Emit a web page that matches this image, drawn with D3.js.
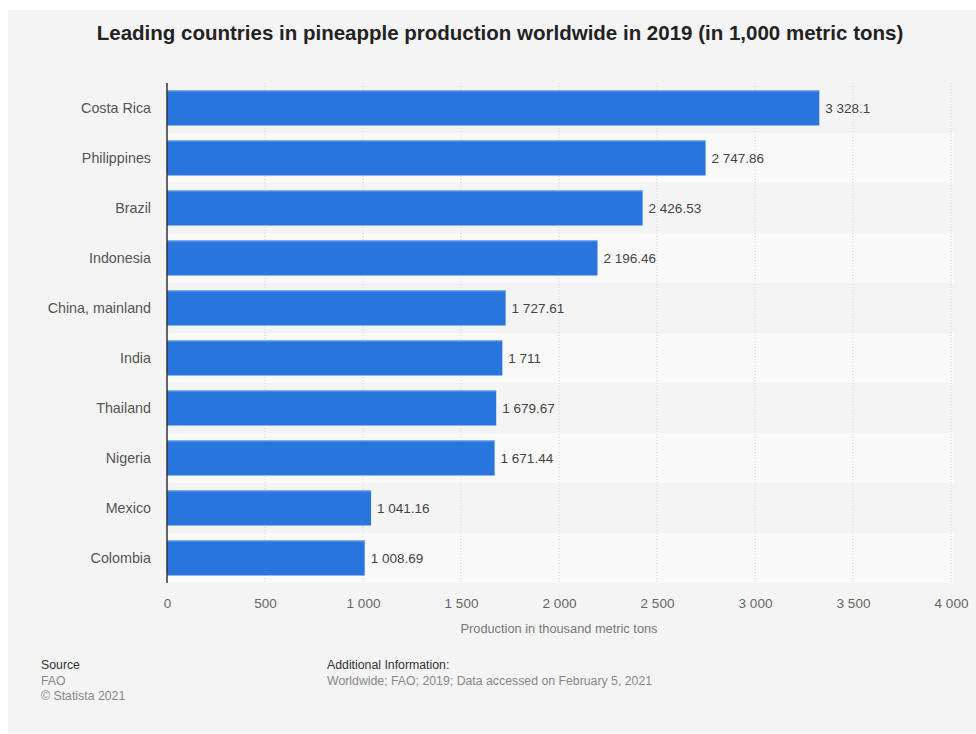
<!DOCTYPE html>
<html lang="en">
<head>
    <meta charset="UTF-8">
    <title>Pineapple production 2019</title>
    <script src="https://d3js.org/d3.v7.min.js"></script>
    <style>
        body { margin: 0; background: #fff; font-family: "Liberation Sans", Arial, sans-serif; }
        .bar { fill: #2876dd; }
        .cat-label { font-size: 14.3px; fill: #555; }
        .val-label { font-size: 13.5px; fill: #444; }
        .tick-label { font-size: 13.5px; fill: #666; }
    </style>
</head>
<body>
    <svg width="976" height="734"></svg>
    <script>
        const countries = ["Costa Rica", "Philippines", "Brazil", "Indonesia", "China, mainland",
            "India", "Thailand", "Nigeria", "Mexico", "Colombia"];
        const production = [3328.1, 2747.86, 2426.53, 2196.46, 1727.61, 1711, 1679.67, 1671.44, 1041.16, 1008.69];
        const xTicks = [0, 500, 1000, 1500, 2000, 2500, 3000, 3500, 4000];

        const data = countries.map((c, i) => ({country: c, value: production[i]}));

        const loc = d3.formatLocale({decimal: ".", thousands: " ", grouping: [3], currency: ["", ""]});
        const fmtVal = v => {
            const s = String(v).split(".");
            const intPart = loc.format(",")(+s[0]);
            return s.length > 1 ? intPart + "." + s[1] : intPart;
        };
        const fmtTick = loc.format(",");

        const svg = d3.select("svg");

        // panel
        svg.append("rect").attr("x", 8).attr("y", 10).attr("width", 968).attr("height", 723).attr("fill", "#f4f4f4");

        svg.append("text")
            .attr("x", 500).attr("y", 40)
            .attr("text-anchor", "middle")
            .attr("font-size", "20.5px").attr("font-weight", "bold").attr("fill", "#222")
            .text("Leading countries in pineapple production worldwide in 2019 (in 1,000 metric tons)");

        const margin = {top: 83, left: 167};
        const width = 951 - 167;
        const height = 583 - 83;
        const g = svg.append("g").attr("transform", `translate(${margin.left},${margin.top})`);

        const x = d3.scaleLinear().domain([0, 4000]).range([0, width]);
        const y = d3.scaleBand().domain(countries).range([0, height]).paddingInner(0.3).paddingOuter(0.15);
        const row = d3.scaleBand().domain(countries).range([0, height]);

        // row stripes
        g.selectAll(".stripe").data(countries).enter().append("rect")
            .attr("x", 0).attr("y", d => row(d))
            .attr("width", width + 3).attr("height", row.bandwidth())
            .attr("fill", (d, i) => i % 2 ? "#f9f9f9" : "#f4f4f4");

        // gridlines
        g.selectAll(".grid").data(xTicks.slice(1)).enter().append("line")
            .attr("x1", d => x(d)).attr("x2", d => x(d))
            .attr("y1", 0).attr("y2", height)
            .attr("stroke", "#d4d4d4").attr("stroke-dasharray", "1,2");

        // bars
        g.selectAll(".bar").data(data).enter().append("rect")
            .attr("class", "bar")
            .attr("x", 0).attr("y", d => y(d.country))
            .attr("width", d => x(d.value)).attr("height", y.bandwidth());

        g.selectAll(".bar-top").data(data).enter().append("line")
            .attr("x1", 0).attr("x2", d => x(d.value))
            .attr("y1", d => y(d.country) + 0.5).attr("y2", d => y(d.country) + 0.5)
            .attr("stroke", "#6fa3ea").attr("stroke-width", 1);

        g.selectAll(".val-label").data(data).enter().append("text")
            .attr("class", "val-label")
            .attr("x", d => x(d.value) + 6)
            .attr("y", d => y(d.country) + y.bandwidth() / 2)
            .attr("dy", "0.35em")
            .text(d => fmtVal(d.value));

        g.selectAll(".cat-label").data(countries).enter().append("text")
            .attr("class", "cat-label")
            .attr("x", -16)
            .attr("y", d => row(d) + row.bandwidth() / 2)
            .attr("dy", "0.35em")
            .attr("text-anchor", "end")
            .text(d => d);

        // y axis line
        g.append("line").attr("x1", 0).attr("x2", 0).attr("y1", 0).attr("y2", height)
            .attr("stroke", "#333").attr("stroke-width", 1.5);

        // x axis labels
        const xAxis = g.append("g").attr("transform", `translate(0,${height})`)
            .call(d3.axisBottom(x).tickValues(xTicks).tickFormat(fmtTick).tickSize(0).tickPadding(15));
        xAxis.select(".domain").remove();
        xAxis.selectAll("text").attr("class", "tick-label").attr("font-family", null).attr("font-size", null).attr("fill", null);

        svg.append("text")
            .attr("x", 559).attr("y", 633)
            .attr("text-anchor", "middle")
            .attr("font-size", "12.8px").attr("fill", "#777")
            .text("Production in thousand metric tons");

        // footer
        const foot = svg.append("g").attr("font-size", "12.3px");
        foot.append("text").attr("x", 41).attr("y", 669).attr("fill", "#333").text("Source");
        foot.append("text").attr("x", 41).attr("y", 685).attr("fill", "#888").text("FAO");
        foot.append("text").attr("x", 41).attr("y", 700).attr("fill", "#888").text("\u00a9 Statista 2021");
        foot.append("text").attr("x", 327).attr("y", 669).attr("fill", "#333").text("Additional Information:");
        foot.append("text").attr("x", 327).attr("y", 685).attr("fill", "#888").text("Worldwide; FAO; 2019; Data accessed on February 5, 2021");
    </script>
</body>
</html>
